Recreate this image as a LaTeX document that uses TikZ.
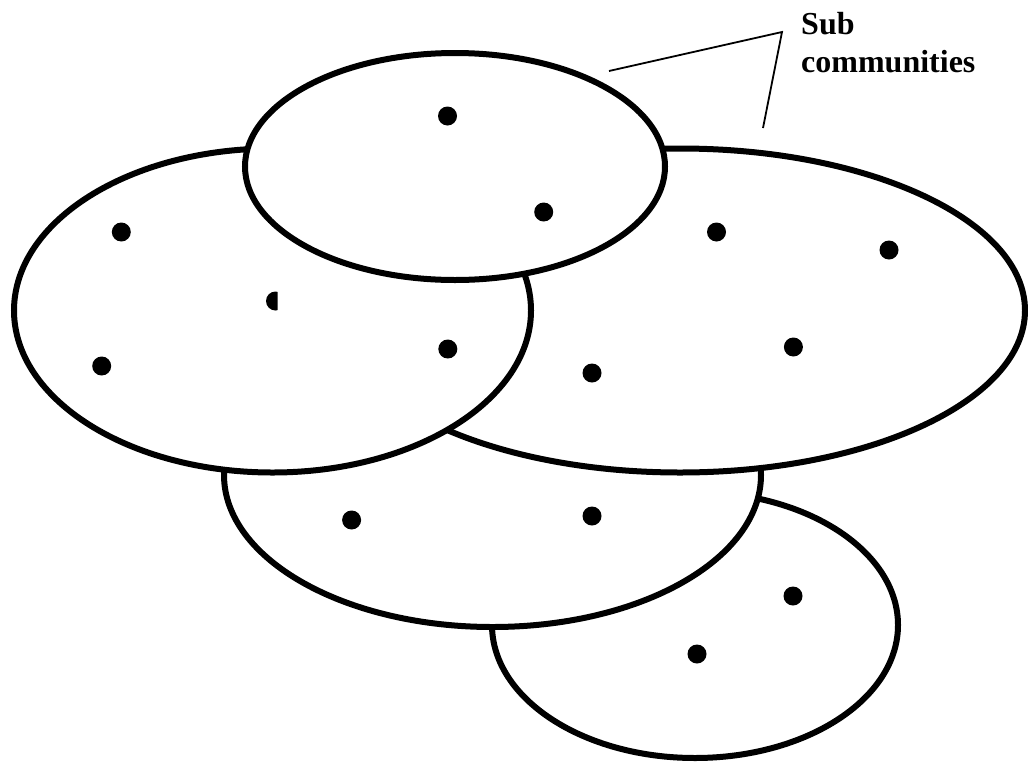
\documentclass[tikz,border=0pt]{standalone}
\usepackage{fontspec}
\setmainfont{Liberation Serif}
\usetikzlibrary{shapes.geometric}

\begin{document}
\begin{tikzpicture}[x=1pt, y=-1pt,
    comm/.style={draw, ellipse, line width=6pt, fill=white, inner sep=0pt},
    member/.style={circle, fill=black, inner sep=0pt, minimum size=19pt},
    pointer/.style={line width=1.8pt}]
\useasboundingbox (0,0) rectangle (1028,761);
% back to front
\node[comm, minimum width=406pt, minimum height=266pt] (low) at (695,625) {};
\node[comm, minimum width=537pt, minimum height=304pt] (mid) at (492.5,475) {};
\node[comm, minimum width=690pt, minimum height=324pt] (right) at (680,310.5) {};
\node[comm, minimum width=517pt, minimum height=324pt] (left) at (272.5,310.5) {};
\node[comm, minimum width=420pt, minimum height=227pt] (top) at (455,166.5) {};

\foreach \n/\x/\y in {1/447.5/116, 2/543.7/212, 3/121.3/232, 4/716.5/232,
    5/889/250, 7/447.8/349, 8/101.7/366, 9/592/373, 10/793.4/347,
    11/351.6/520, 12/592/516, 13/793/596, 14/697/654}
  \node[member] (m\n) at (\x,\y) {};
\begin{scope}
  \clip (260,285) rectangle (277.7,320);
  \node[member] (m6) at (275.5,301) {};
\end{scope}

\node[anchor=north west, inner sep=0pt, align=left,
      font=\fontsize{32}{38}\selectfont\bfseries] (lbl) at (801,12) {Sub\\communities};
\coordinate (tip) at (782,32);
\coordinate (e1) at (609,71);
\coordinate (e2) at (763,128);
\draw[pointer] (e1) -- (tip) -- (e2);
\end{tikzpicture}
\end{document}
